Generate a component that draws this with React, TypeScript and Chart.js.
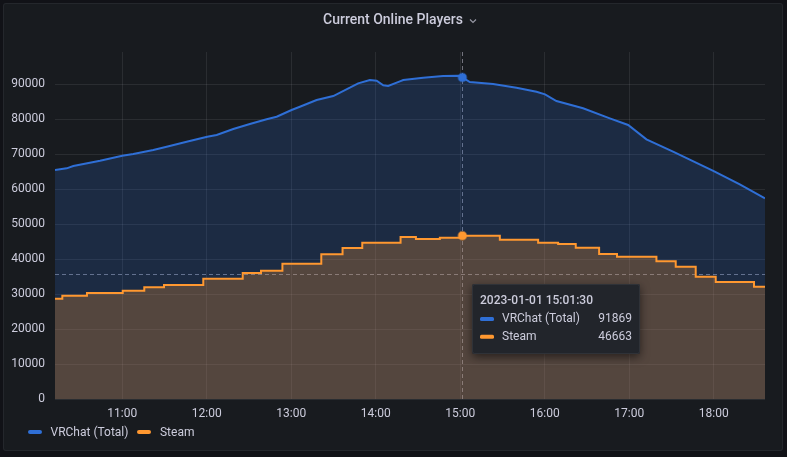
import React, { useEffect, useRef } from "react";
import { Chart, registerables } from "chart.js";

Chart.register(...registerables);

// ---- data (time in minutes since midnight, 2023-01-01) ----
const vrchatTimes = [
  612.2, 620.5, 625.2, 644.2, 660, 667.8, 682, 691.5, 705.7, 720.3, 727, 738.8,
  750.6, 762.5, 769.6, 780.2, 786.1, 798, 809.8, 821.6, 827.5, 835.8, 840.6,
  845.3, 848.8, 857.1, 859.5, 873.7, 887.8, 898.5, 901.5, 906.8, 923.3, 939.9,
  954.1, 960.2, 968.3, 987.2, 1006.2, 1019.2, 1032.2, 1051.1, 1080, 1098.5, 1116.4,
];
const vrchatValues = [
  65430, 65910, 66570, 68090, 69510, 70000, 71140, 72090, 73520, 74950, 75430, 77140,
  78570, 79910, 80660, 82570, 83510, 85430, 86570, 88940, 90200, 91140, 90940,
  89630, 89430, 90770, 91140, 91800, 92290, 92370, 91869, 90570, 90000, 88940,
  87800, 87060, 85140, 83060, 80200, 78290, 74200, 70660, 65140, 61340, 57340,
];
const steamTimes = [
  612.2, 617.4, 634.9, 660.3, 675.6, 689.6, 717.5, 745.5, 758.5, 773.7, 801.3,
  816.4, 830.4, 857.6, 868.5, 885.5, 900.9, 901.5, 928.1, 955.3, 969.5, 982.0,
  998.6, 1011.3, 1039.3, 1053.0, 1067.2, 1081.4, 1108.6, 1116.4,
];
const steamValues = [
  28660, 29520, 30290, 30950, 31900, 32570, 34380, 36000, 36670, 38620, 41330,
  43140, 44670, 46290, 45710, 46090, 46663, 46663, 45520, 44670, 44290, 43240,
  41430, 40670, 39340, 37800, 34950, 33430, 32090, 32090,
];
const seriesNames = ["VRChat (Total)", "Steam"];
const seriesColors = ["#2F6FD6", "#FF9830"];
const yTickValues = [0, 10000, 20000, 30000, 40000, 50000, 60000, 70000, 80000, 90000];
const xTickValues = [660, 720, 780, 840, 900, 960, 1020, 1080];
const xMin = 612.2;
const xMax = 1116.4;
const yMax = 99150;
const hoverTime = 901.5;
const cursorValue = 35630;
const dateLabel = "2023-01-01";

const FONT = "Roboto, 'Noto Sans', sans-serif";
const TEXT = "rgb(204,204,220)";

function pad2(n: number) {
  return String(n).padStart(2, "0");
}
function fmtHM(m: number) {
  return `${pad2(Math.floor(m / 60))}:${pad2(Math.round(m % 60))}`;
}
function fmtHMS(m: number) {
  const total = Math.round(m * 60);
  const h = Math.floor(total / 3600);
  const mi = Math.floor((total % 3600) / 60);
  const s = total % 60;
  return `${pad2(h)}:${pad2(mi)}:${pad2(s)}`;
}

const overlayPlugin = {
  id: "overlay",
  beforeDatasetsDraw(chart: any) {
    const { ctx, chartArea, scales } = chart;
    const x = Math.round(scales.x.getPixelForValue(hoverTime)) + 0.5;
    const y = Math.round(scales.y.getPixelForValue(cursorValue)) + 0.5;
    ctx.save();
    ctx.strokeStyle = "rgba(204,204,220,0.5)";
    ctx.lineWidth = 1;
    ctx.setLineDash([4, 3]);
    ctx.beginPath();
    ctx.moveTo(x, chartArea.top);
    ctx.lineTo(x, chartArea.bottom);
    ctx.moveTo(chartArea.left, y);
    ctx.lineTo(chartArea.right, y);
    ctx.stroke();
    ctx.restore();
  },
  afterDraw(chart: any) {
    const { ctx, scales } = chart;
    const cx = scales.x.getPixelForValue(hoverTime);
    const cy = scales.y.getPixelForValue(cursorValue);
    const left = Math.round(cx) + 10;
    const top = Math.round(cy) + 10;
    const w = 168;
    const h = 70;
    ctx.save();
    ctx.shadowColor = "rgba(0,0,0,0.55)";
    ctx.shadowBlur = 10;
    ctx.shadowOffsetY = 3;
    ctx.fillStyle = "#22252b";
    ctx.beginPath();
    ctx.roundRect(left, top, w, h, 2);
    ctx.fill();
    ctx.restore();
    ctx.save();
    ctx.strokeStyle = "rgba(204,204,220,0.08)";
    ctx.lineWidth = 1;
    ctx.beginPath();
    ctx.roundRect(left + 0.5, top + 0.5, w - 1, h - 1, 2);
    ctx.stroke();
    ctx.textBaseline = "middle";
    ctx.fillStyle = TEXT;
    ctx.font = `500 12px ${FONT}`;
    ctx.textAlign = "left";
    ctx.fillText(`${dateLabel} ${fmtHMS(hoverTime)}`, left + 8, top + 17);
    const vals = [
      vrchatValues[vrchatTimes.indexOf(hoverTime)],
      steamValues[steamTimes.indexOf(hoverTime)],
    ];
    ctx.font = `400 12px ${FONT}`;
    for (let i = 0; i < 2; i++) {
      const ry = top + 35 + i * 17.8;
      ctx.fillStyle = seriesColors[i];
      ctx.beginPath();
      ctx.roundRect(left + 8, ry - 2, 14, 4, 1.5);
      ctx.fill();
      ctx.fillStyle = TEXT;
      ctx.textAlign = "left";
      ctx.fillText(seriesNames[i], left + 30, ry);
      ctx.textAlign = "right";
      ctx.fillText(String(vals[i]), left + 160, ry);
    }
    ctx.restore();
  },
};

export default function App() {
  const canvasRef = useRef<HTMLCanvasElement | null>(null);

  useEffect(() => {
    document.body.style.margin = "0";
    document.body.style.background = "#111217";
    const canvas = canvasRef.current;
    if (!canvas) return;
    const hoverRadius = (c: any) => (c.raw && c.raw.x === hoverTime ? 4 : 0);
    const chart = new Chart(canvas, {
      type: "line",
      data: {
        datasets: [
          {
            label: seriesNames[0],
            data: vrchatTimes.map((t, i) => ({ x: t, y: vrchatValues[i] })),
            borderColor: seriesColors[0],
            backgroundColor: "rgba(47,111,214,0.2)",
            borderWidth: 2,
            fill: "origin",
            tension: 0,
            pointRadius: hoverRadius,
            pointBackgroundColor: seriesColors[0],
            pointBorderColor: "rgba(47,111,214,0.45)",
            pointBorderWidth: 2,
            order: 2,
          },
          {
            label: seriesNames[1],
            data: steamTimes.map((t, i) => ({ x: t, y: steamValues[i] })),
            borderColor: seriesColors[1],
            backgroundColor: "rgba(255,152,48,0.25)",
            borderWidth: 2,
            fill: "origin",
            stepped: "before",
            pointRadius: hoverRadius,
            pointBackgroundColor: seriesColors[1],
            pointBorderColor: "rgba(255,152,48,0.45)",
            pointBorderWidth: 2,
            order: 1,
          },
        ],
      },
      options: {
        responsive: false,
        animation: false,
        devicePixelRatio: 1,
        layout: { padding: { top: 52, right: 22, left: 0, bottom: 38 } },
        plugins: {
          legend: { display: false },
          tooltip: { enabled: false },
          title: { display: false },
        },
        events: [],
        scales: {
          x: {
            type: "linear",
            min: xMin,
            max: xMax,
            afterBuildTicks: (s: any) => {
              s.ticks = xTickValues.map((v) => ({ value: v }));
            },
            afterFit: (s: any) => {
              s.height = 20;
            },
            ticks: {
              autoSkip: false,
              maxRotation: 0,
              padding: 8,
              color: TEXT,
              font: { family: FONT, size: 12 },
              callback: (v: any) => fmtHM(Number(v)),
            },
            grid: { color: "rgba(204,204,220,0.1)", drawTicks: false },
            border: { display: false },
          },
          y: {
            type: "linear",
            min: 0,
            max: yMax,
            afterBuildTicks: (s: any) => {
              s.ticks = yTickValues.map((v) => ({ value: v }));
            },
            afterFit: (s: any) => {
              s.width = 55;
            },
            ticks: {
              padding: 10,
              color: TEXT,
              font: { family: FONT, size: 12 },
              callback: (v: any) => String(v),
            },
            grid: { color: "rgba(204,204,220,0.1)", drawTicks: false },
            border: { display: false },
          },
        },
      },
      plugins: [overlayPlugin],
    } as any);
    return () => chart.destroy();
  }, []);

  return (
    <div
      style={{
        position: "absolute",
        left: 0,
        top: 0,
        width: 787,
        height: 457,
        background: "#111217",
        fontFamily: FONT,
        overflow: "hidden",
      }}
    >
      <div
        style={{
          position: "absolute",
          left: 3,
          top: 3,
          width: 778,
          height: 446,
          background: "#181b1f",
          border: "1px solid rgba(204,204,220,0.07)",
          borderRadius: 3,
        }}
      />
      <canvas
        ref={canvasRef}
        width={787}
        height={457}
        style={{ position: "absolute", left: 0, top: 0, width: 787, height: 457 }}
      />
      <div
        style={{
          position: "absolute",
          left: 323,
          top: 10,
          height: 18,
          lineHeight: "18px",
          fontSize: 14,
          fontWeight: 500,
          color: TEXT,
          whiteSpace: "nowrap",
          display: "flex",
          alignItems: "center",
        }}
      >
        <span>Current Online Players</span>
        <svg width="8" height="6" viewBox="0 0 8 6" style={{ marginLeft: 6, marginTop: 3 }}>
          <path d="M1 1.5 L4 4.5 L7 1.5" fill="none" stroke="rgba(204,204,220,0.7)" strokeWidth="1.2" />
        </svg>
      </div>
      <div
        style={{
          position: "absolute",
          left: 28,
          top: 423,
          height: 18,
          display: "flex",
          alignItems: "center",
          fontSize: 12,
          color: TEXT,
          whiteSpace: "nowrap",
        }}
      >
        {seriesNames.map((n, i) => (
          <div key={n} style={{ display: "flex", alignItems: "center", marginRight: 9 }}>
            <span
              style={{
                display: "inline-block",
                width: 14,
                height: 4,
                borderRadius: 2,
                background: seriesColors[i],
                marginRight: 8.5,
              }}
            />
            <span>{n}</span>
          </div>
        ))}
      </div>
    </div>
  );
}
